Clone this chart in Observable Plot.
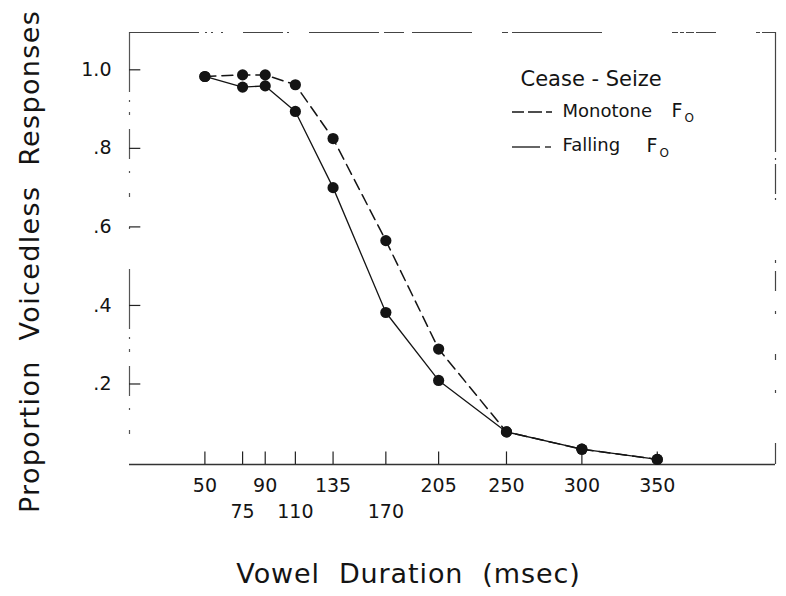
<!DOCTYPE html>
<html>
<head>
<meta charset="utf-8">
<script src="https://cdn.jsdelivr.net/npm/d3@7"></script>
<script src="https://cdn.jsdelivr.net/npm/@observablehq/plot@0.6"></script>
<style>
  html, body { margin: 0; padding: 0; background: #fff; }
  #chart svg { display: block; }
  .ytitle text { letter-spacing: 1.35px; }
  .xtitle text { letter-spacing: 0.9px; }
</style>
</head>
<body>
<div id="chart"></div>
<script>
const durations = [50, 75, 90, 110, 135, 170, 205, 250, 300, 350];
const monotone = [0.983, 0.987, 0.987, 0.962, 0.825, 0.565, 0.289, 0.078, 0.034, 0.008];
const falling  = [0.983, 0.956, 0.959, 0.894, 0.700, 0.382, 0.209, 0.078, 0.034, 0.008];
const xTicksRow1 = [50, 90, 135, 205, 250, 300, 350];
const xTicksRow2 = [75, 110, 170];
const yTicks = [0.2, 0.4, 0.6, 0.8, 1.0];
const yTickLabels = [".2", ".4", ".6", ".8", "1.0"];

const monoData = durations.map((d, i) => ({x: d, y: monotone[i]}));
const fallData = durations.map((d, i) => ({x: d, y: falling[i]}));
const allTicks = durations;

const FONT = "DejaVu Sans";
const ink = "#141414";
const W = 400;
const leg = (txt, dx, dy, size) => Plot.text([txt], {frameAnchor: "top-left", text: d => d, dx, dy, textAnchor: "start", lineAnchor: "middle", fontSize: size, fill: ink, fontWeight: W});

const chart = Plot.plot({
  width: 786,
  height: 596,
  marginLeft: 129,
  marginRight: 11,
  marginTop: 32,
  marginBottom: 132,
  style: {fontFamily: FONT, background: "#fff", color: ink},
  x: {domain: [0, 428.4], axis: null},
  y: {domain: [-0.005, 1.095], axis: null},
  marks: [
    // frame
    Plot.ruleY([-0.005], {stroke: "#333", strokeWidth: 1.3}),
    Plot.ruleX([0], {stroke: "#555", strokeWidth: 1.2, strokeDasharray: "60,8,2,10,3,14,30,12,2,20,4,30,2,40"}),
    Plot.ruleY([1.095], {stroke: "#444", strokeWidth: 1.2, strokeDasharray: "70,6,2,4,2,8,2,20,40,4,2,20,70,5,20,8,60,30,6,4,90"}),
    Plot.ruleX([428.4], {stroke: "#444", strokeWidth: 1.2, strokeDasharray: "120,6,2,4,30,4,2,60,3,8,20,20,3,40,6,30,3,50,60"}),
    // ticks
    Plot.ruleX(allTicks, {x: d => d, y1: -0.005, y2: 0.027, stroke: "#222", strokeWidth: 1.2}),
    Plot.ruleY(yTicks, {y: d => d, x1: 0, x2: 7.5, stroke: "#222", strokeWidth: 1.2}),
    // tick labels
    Plot.text(yTicks, {x: 0, y: d => d, text: (d, i) => yTickLabels[i], textAnchor: "end", dx: -18, fontSize: 19, fill: ink, fontWeight: W}),
    Plot.text(xTicksRow1, {x: d => d, y: -0.005, text: d => String(d), dy: 21, fontSize: 19, fill: ink, fontWeight: W}),
    Plot.text(xTicksRow2, {x: d => d, y: -0.005, text: d => String(d), dy: 47, fontSize: 19, fill: ink, fontWeight: W}),
    // data
    Plot.line(monoData, {x: "x", y: "y", stroke: ink, strokeWidth: 1.5, strokeDasharray: "11,6"}),
    Plot.line(fallData, {x: "x", y: "y", stroke: ink, strokeWidth: 1.3}),
    Plot.dot(monoData, {x: "x", y: "y", r: 5.6, fill: ink}),
    Plot.dot(fallData, {x: "x", y: "y", r: 5.6, fill: ink}),
    // titles
    Plot.text(["Proportion  Voicedless  Responses"], {frameAnchor: "left", text: d => d, textAnchor: "middle", lineAnchor: "middle", rotate: -90, dx: -99, dy: 13, fontSize: 27, fill: ink, fontWeight: W, className: "ytitle"}),
    Plot.text(["Vowel  Duration  (msec)"], {frameAnchor: "bottom", text: d => d, textAnchor: "middle", lineAnchor: "middle", dx: -44, dy: 110, fontSize: 27, fill: ink, fontWeight: W, className: "xtitle"}),
    // legend
    leg("Cease - Seize", 391, 47, 21),
    leg("Monotone", 433, 79, 18),
    leg("F", 542, 78, 19),
    leg("O", 555, 86, 12),
    leg("Falling", 433, 113, 18),
    leg("F", 517, 113, 19),
    leg("O", 530, 121, 12)
  ]
});

// legend swatches
const svg = d3.select(chart);
const g = svg.append("g").attr("stroke", ink).attr("fill", "none");
g.append("line").attr("x1", 512).attr("x2", 552).attr("y1", 112).attr("y2", 112)
  .attr("stroke-width", 1.3).attr("stroke-dasharray", "12,4,14,4,6");
g.append("line").attr("x1", 512).attr("x2", 540).attr("y1", 147).attr("y2", 147)
  .attr("stroke-width", 1.3);
g.append("line").attr("x1", 545).attr("x2", 551).attr("y1", 147).attr("y2", 147)
  .attr("stroke-width", 1.3);

document.getElementById("chart").appendChild(chart);
</script>
</body>
</html>
